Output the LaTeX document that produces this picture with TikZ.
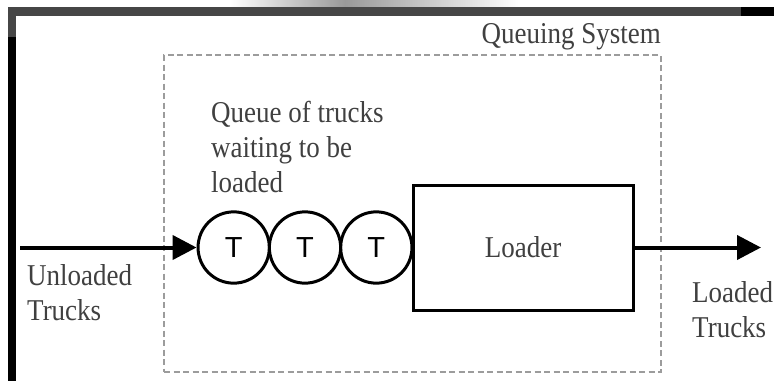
\documentclass[tikz,border=0pt]{standalone}
\usepackage{fontspec}
\setmainfont{Liberation Serif}
\newfontfamily\tfont{Liberation Sans}
\usetikzlibrary{arrows.meta}
\definecolor{framegray}{HTML}{464646}
\definecolor{dashgray}{HTML}{9C9C9C}
\definecolor{textgray}{HTML}{404040}
\newcommand\tallstack[1]{\scalebox{1}[1.12]{\begin{tabular}[t]{@{}l@{}}#1\end{tabular}}}
\newcommand\tallline[1]{\scalebox{1}[1.12]{#1}}
\tikzset{
  truck/.style={circle, draw=black, line width=3pt, minimum size=71.3pt, inner sep=0pt,
    font=\tfont\fontsize{29}{29}\selectfont},
  loaderbox/.style={rectangle, draw=black, line width=3pt, minimum width=220pt, minimum height=125pt,
    inner sep=0pt, font=\fontsize{27}{27}\selectfont, text=textgray},
  label/.style={inner sep=0pt, text=textgray, font=\fontsize{27}{31.5}\selectfont},
  flow/.style={line width=4pt, -{Triangle[length=24pt,width=24pt]}},
}
\begin{document}
\begin{tikzpicture}[x=1pt,y=-1pt]
\useasboundingbox (0,0) rectangle (774,381);
\fill[white] (0,0) rectangle (774,381);
% screenshot artefacts at the top
\shade[left color=white, right color=gray!80] (230,0) rectangle (345,7);
\shade[left color=gray!80, right color=white] (345,0) rectangle (520,7);
\fill[framegray] (8,7) rectangle (741,16);
\fill[black] (741,7) rectangle (774,16);
\fill[framegray] (8,7) rectangle (16,37);
\fill[black] (8,37) rectangle (16,381);
% queuing system boundary
\node[draw=dashgray, line width=2.5pt, dash pattern=on 6pt off 3.5pt, rectangle, inner sep=0pt,
  minimum width=497pt, minimum height=317pt] (sys) at (412.5,213.5) {};
\node[label, anchor=base east] (systxt) at (661,43) {\tallline{Queuing System}};
% trucks and loader
\node[truck] (t1) at (233.7,247.5) {T};
\node[truck] (t2) at (305,247.5) {T};
\node[truck] (t3) at (376.3,247.5) {T};
\node[loaderbox] (loader) at (523,247.5) {\tallline{Loader}};
% labels
\node[label, anchor=base west] (queue) at (211,122) {\tallstack{Queue of trucks\\waiting to be\\loaded}};
\node[label, anchor=base west] (unl) at (27,285) {\tallstack{Unloaded\\Trucks}};
\node[label, anchor=base west] (lod) at (692,302) {\tallstack{Loaded\\Trucks}};
% flows
\coordinate (in) at (20,247.5);
\coordinate (out) at (761,247.5);
\draw[flow] (in) -- (t1.west);
\draw[flow] (loader.east) -- (out);
\end{tikzpicture}
\end{document}
